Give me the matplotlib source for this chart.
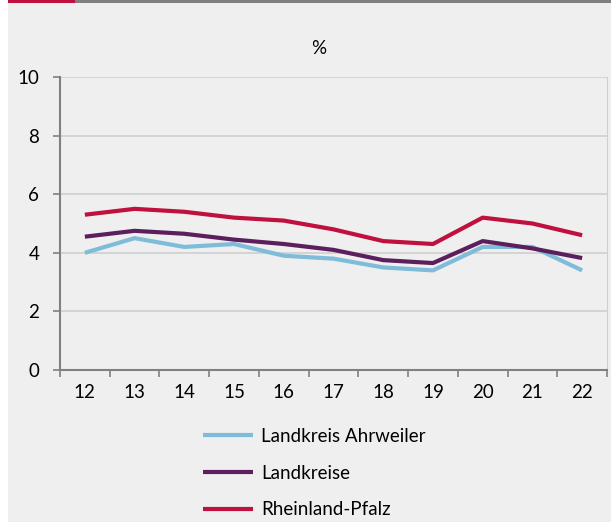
import matplotlib
matplotlib.use('Agg')
import matplotlib.pyplot as plt
from matplotlib.patches import Rectangle

years = ['12', '13', '14', '15', '16', '17', '18', '19', '20', '21', '22']
ahrweiler = [4.0, 4.5, 4.2, 4.3, 3.9, 3.8, 3.5, 3.4, 4.2, 4.2, 3.4]
landkreise = [4.55, 4.75, 4.65, 4.45, 4.3, 4.1, 3.75, 3.65, 4.4, 4.15, 3.82]
rlp = [5.3, 5.5, 5.4, 5.2, 5.1, 4.8, 4.4, 4.3, 5.2, 5.0, 4.6]
names = ['Landkreis Ahrweiler', 'Landkreise', 'Rheinland-Pfalz']
colors = ['#7fbcd9', '#5c1f5e', '#c0103f']

plt.rcParams['font.family'] = ['Lato', 'DejaVu Sans']
FS = 13.5

W, H = 611, 522
fig = plt.figure(figsize=(W / 100, H / 100), dpi=100, facecolor='#eeefee')

# white strip on the left and the top bar
fig.patches.append(Rectangle((0, 0), 8 / W, 1, transform=fig.transFigure,
                             facecolor='white', edgecolor='none', zorder=-5))
fig.patches.append(Rectangle((8 / W, 1 - 3 / H), 67 / W, 3 / H, transform=fig.transFigure,
                             facecolor='#c0103f', edgecolor='none', zorder=-5))
fig.patches.append(Rectangle((75 / W, 1 - 3 / H), 1 - 75 / W, 3 / H, transform=fig.transFigure,
                             facecolor='#808080', edgecolor='none', zorder=-5))

ax = fig.add_axes([60 / W, (H - 370) / H, 547 / W, 293 / H])
ax.set_facecolor('#eeefee')

x = list(range(len(years)))
for vals, name, c in zip([ahrweiler, landkreise, rlp], names, colors):
    ax.plot(x, vals, color=c, lw=3, label=name, solid_capstyle='butt', zorder=3)

ax.set_xlim(-0.5, len(years) - 0.5)
ax.set_ylim(0, 10)
ax.set_yticks(range(0, 11, 2))
ax.set_xticks(x)
ax.set_xticklabels(years)
ax.set_xticks([i - 0.5 for i in range(len(years) + 1)], minor=True)
ax.tick_params(axis='x', which='major', length=0, pad=10, labelsize=FS)
ax.tick_params(axis='x', which='minor', length=5, color='#808080', width=1.2)
ax.tick_params(axis='y', length=5, color='#808080', width=1.2, pad=10, labelsize=FS)
ax.grid(axis='y', color='#cfcfcf', lw=1.2)
ax.set_axisbelow(True)
ax.spines['top'].set_visible(False)
ax.spines['right'].set_color('#cfcfcf')
ax.spines['left'].set_color('#808080')
ax.spines['bottom'].set_color('#808080')
ax.spines['left'].set_linewidth(1.5)
ax.spines['bottom'].set_linewidth(1.5)

fig.text(319 / W, 1 - 48 / H, '%', ha='center', va='center', fontsize=FS)

fig.legend(loc='upper left', bbox_to_anchor=(186 / W, 1 - 411 / H), frameon=False,
           fontsize=FS, handlelength=2.67, handletextpad=0.45, labelspacing=1.05)

fig.savefig('out.png', dpi=100, facecolor=fig.get_facecolor())
